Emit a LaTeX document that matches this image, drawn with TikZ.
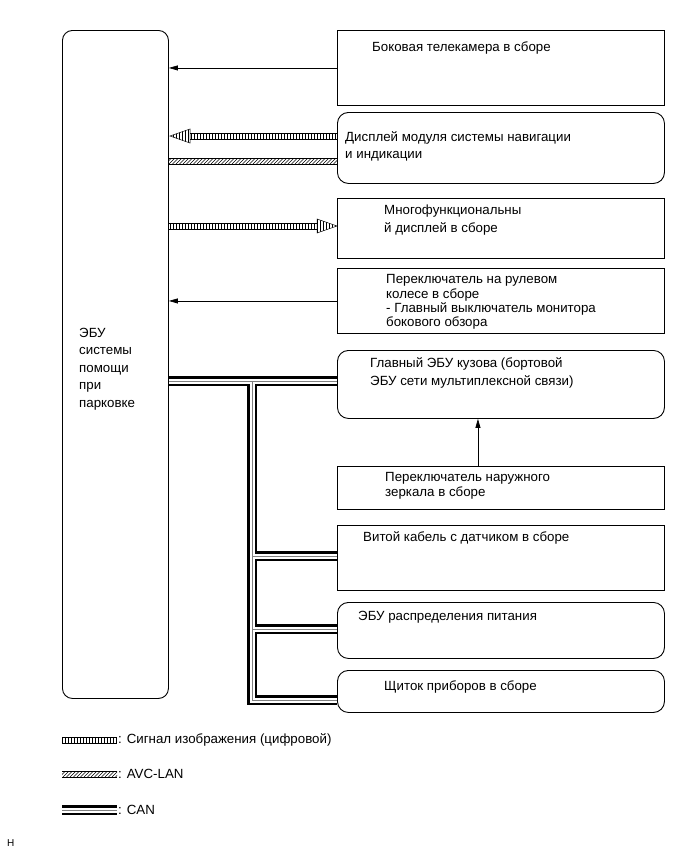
\documentclass[tikz,border=0pt]{standalone}
\usepackage{fontspec}
\setmainfont{Liberation Sans}
\usetikzlibrary{arrows.meta}
\tikzset{
 box/.style={draw, line width=0.9pt, inner sep=0pt, anchor=north west},
 rbox/.style={box, rounded corners=11pt},
 txt/.style={anchor=west, align=left, inner sep=0pt, font=\fontsize{13.3}{17}\selectfont},
 arr/.style={line width=0.7pt, -{Triangle[length=9pt,width=5pt]}},
 canA/.style={line width=10pt, black, line join=miter},
 canB/.style={line width=5pt, white, line join=miter},
 canC/.style={line width=0.8pt, gray, line join=miter},
 stripe/.style={line width=0.5pt},
}
\begin{document}
\begin{tikzpicture}[x=1pt,y=-1pt]
\useasboundingbox (0,0) rectangle (691,854);
% boxes
\node[rbox, rounded corners=10pt, minimum width=106pt, minimum height=668pt] (ecu) at (62,30) {};
\node[txt, font=\fontsize{13.3}{17.5}\selectfont] (ecut) at (79,369) {ЭБУ\\системы\\помощи\\при\\парковке};
\node[box, minimum width=327pt, minimum height=75pt] (b1) at (337,30) {};
\node[txt] (b1t) at (372,48) {Боковая телекамера в сборе};
\node[rbox, minimum width=327pt, minimum height=71pt] (b2) at (337,112) {};
\node[txt] (b2t) at (345,146) {Дисплей модуля системы навигации\\и индикации};
\node[box, minimum width=327pt, minimum height=60pt] (b3) at (337,198) {};
\node[txt, font=\fontsize{13.3}{18}\selectfont] (b3t) at (384,220.5) {Многофункциональны\\й дисплей в сборе};
\node[box, minimum width=327pt, minimum height=65pt] (b4) at (337,268) {};
\node[txt, font=\fontsize{13.3}{14.3}\selectfont] (b4t) at (386,302) {Переключатель на рулевом\\колесе в сборе\\- Главный выключатель монитора\\бокового обзора};
\node[rbox, minimum width=327pt, minimum height=68pt] (b5) at (337,350) {};
\node[txt, font=\fontsize{13.3}{18}\selectfont] (b5t) at (370,373) {Главный ЭБУ кузова (бортовой\\ЭБУ сети мультиплексной связи)};
\node[box, minimum width=327pt, minimum height=43pt] (b6) at (337,466) {};
\node[txt, font=\fontsize{13.3}{15}\selectfont] (b6t) at (385,486) {Переключатель наружного\\зеркала в сборе};
\node[box, minimum width=327pt, minimum height=65pt] (b7) at (337,525) {};
\node[txt] (b7t) at (363,538) {Витой кабель с датчиком в сборе};
\node[rbox, minimum width=327pt, minimum height=56pt] (b8) at (337,602) {};
\node[txt] (b8t) at (358,617) {ЭБУ распределения питания};
\node[rbox, minimum width=327pt, minimum height=42pt] (b9) at (337,670) {};
\node[txt] (b9t) at (384,687) {Щиток приборов в сборе};
% simple arrows
\draw[arr] (b1.west) -- (b1.west -| ecu.east);
\draw[arr] (b4.west) -- (b4.west -| ecu.east);
\draw[arr] ([xshift=-23pt]b6.north) -- ([xshift=-23pt]b5.south);
% CAN bus
\coordinate (j0) at (252,381);
\coordinate (j1) at (252,556);
\coordinate (j2) at (252,629);
\coordinate (j3) at (252,700);
\foreach \st in {canA,canB,canC}{
 \draw[\st] (ecu.east |- j0) -- (j0 -| b5.west);
 \draw[\st] (j0) -- (j3) -- (j3 -| b9.west);
 \draw[\st] (j1) -- (j1 -| b7.west);
 \draw[\st] (j2) -- (j2 -| b8.west);
}
% video arrow 1 (to ECU)
\draw[stripe] (190,133) -- (337,133) (190,139) -- (337,139);
\foreach \xx in {191,194,...,336} \draw[stripe] (\xx,133) -- (\xx,139);
\begin{scope}
 \clip (170,136) -- (190,129) -- (190,143) -- cycle;
 \foreach \xx in {173,176,...,190} \draw[stripe] (\xx,125) -- (\xx,147);
\end{scope}
\draw[stripe, line join=miter] (170,136) -- (190,129) -- (190,143) -- cycle;
% AVC-LAN band
\draw[stripe] (168,158) -- (337,158) (168,164) -- (337,164);
\begin{scope}
 \clip (168,158) rectangle (337,164);
 \foreach \xx in {162,165.5,...,340} \draw[stripe] (\xx,164) -- (\xx+6,158);
\end{scope}
% video arrow 2 (to display)
\draw[stripe] (168,223) -- (317,223) (168,229) -- (317,229);
\foreach \xx in {170,173,...,317} \draw[stripe] (\xx,223) -- (\xx,229);
\begin{scope}
 \clip (337,226) -- (317,219) -- (317,233) -- cycle;
 \foreach \xx in {317,320,...,335} \draw[stripe] (\xx,215) -- (\xx,237);
\end{scope}
\draw[stripe, line join=miter] (337,226) -- (317,219) -- (317,233) -- cycle;
% legend
\draw[stripe] (62,737) -- (117,737) (62,743) -- (117,743);
\foreach \xx in {62,65,...,117} \draw[stripe] (\xx,737) -- (\xx,743);
\node[txt] (l1) at (118,740) {: Сигнал изображения (цифровой)};
\draw[stripe] (62,771) -- (117,771) (62,777) -- (117,777);
\begin{scope}
 \clip (62,771) rectangle (117,777);
 \foreach \xx in {56,59.5,...,118} \draw[stripe] (\xx,777) -- (\xx+6,771);
\end{scope}
\node[txt] (l2) at (118,774) {: AVC-LAN};
\coordinate (c1) at (62,810);
\coordinate (c2) at (117,810);
\foreach \st in {canA,canB,canC}{\draw[\st] (c1) -- (c2);}
\node[txt] (l3) at (118,810) {: CAN};
\node[txt, font=\fontsize{10}{12}\selectfont] (h) at (7,843) {H};
\end{tikzpicture}
\end{document}
